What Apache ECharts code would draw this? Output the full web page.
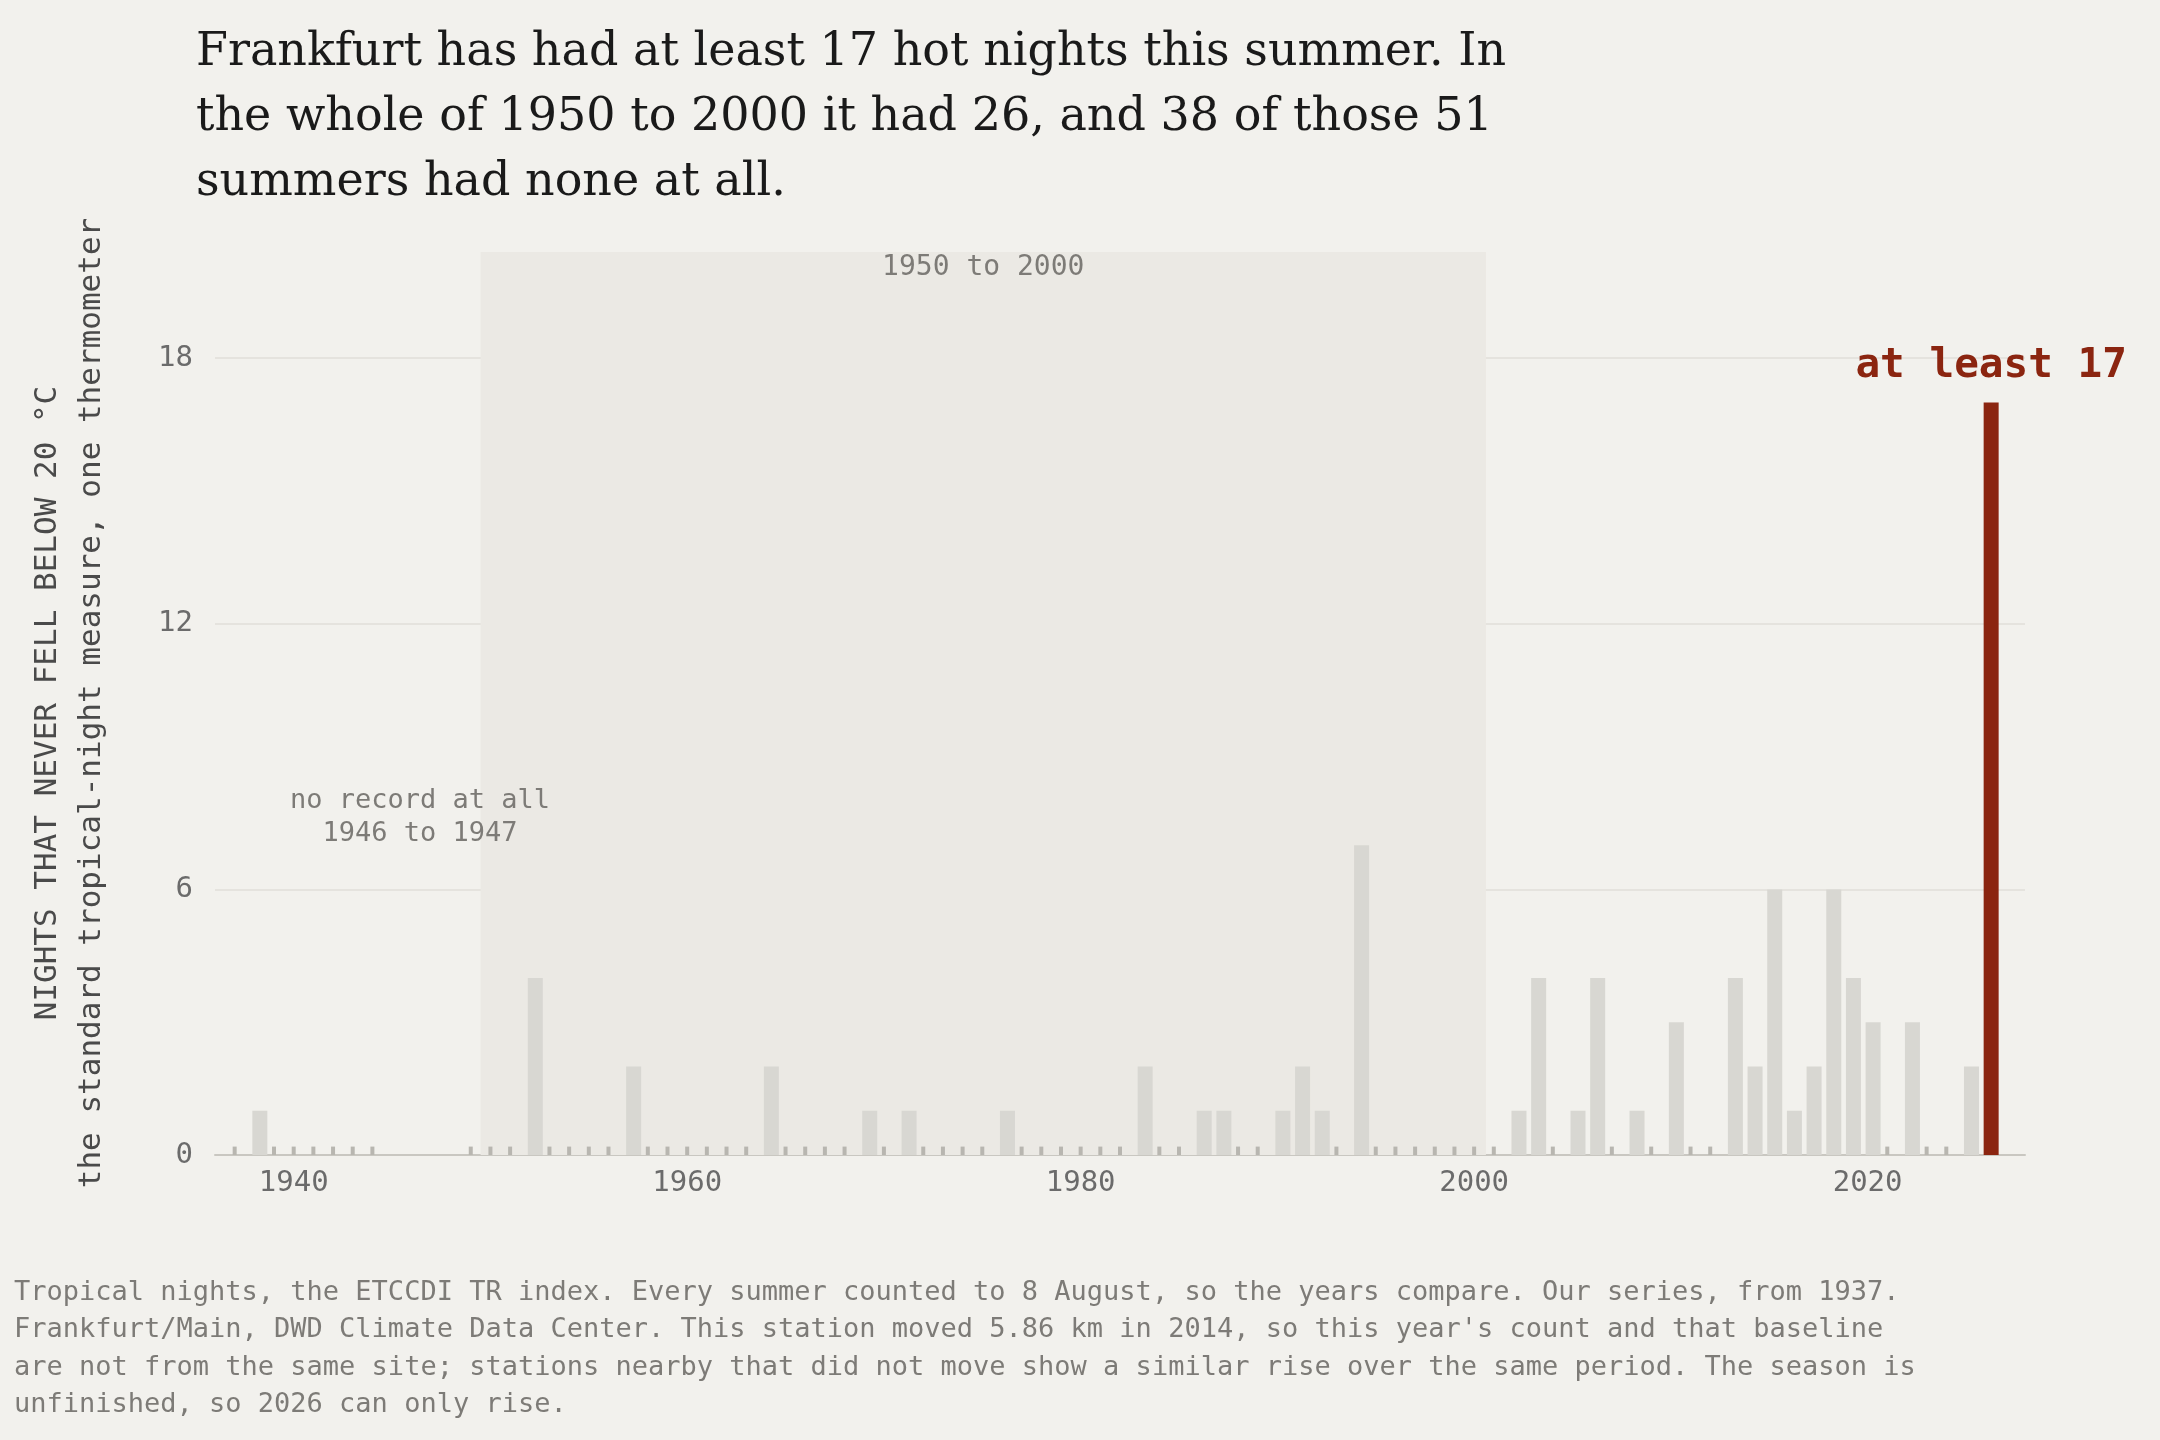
<!DOCTYPE html>
<html><head><meta charset="utf-8">
<script src="https://cdn.jsdelivr.net/npm/echarts@6/dist/echarts.min.js"></script>
<style>html,body{margin:0;background:#f2f1ed}#c{width:2160px;height:1440px}</style>
</head><body><div id="c"></div>
<script>
const years = [];
for (let y = 1937; y <= 2026; y++) years.push(y);
const missingYears = [1945, 1946, 1947, 1948];
const nonZero = {1938:1,1952:4,1957:2,1964:2,1969:1,1971:1,1976:1,1983:2,1986:1,1987:1,1990:1,1991:2,1992:1,1994:7,
 2002:1,2003:4,2005:1,2006:4,2008:1,2010:3,2013:4,2014:2,2015:6,2016:1,2017:2,2018:6,2019:4,2020:3,2022:3,2025:2,2026:17};
const values = years.map(y => missingYears.includes(y) ? null : (nonZero[y] || 0));
const yTicks = [0, 6, 12, 18];
const titleLines = ['Frankfurt has had at least 17 hot nights this summer. In','the whole of 1950 to 2000 it had 26, and 38 of those 51','summers had none at all.'];
const noteLines = ["Tropical nights, the ETCCDI TR index. Every summer counted to 8 August, so the years compare. Our series, from 1937.",
"Frankfurt/Main, DWD Climate Data Center. This station moved 5.86 km in 2014, so this year's count and that baseline",
"are not from the same site; stations nearby that did not move show a similar rise over the same period. The season is",
"unfinished, so 2026 can only rise."];
const mono = '"DejaVu Sans Mono", monospace';
const lastYear = 2026;
const bars = years.map((y,i) => values[i] ? {value:[y, values[i]], itemStyle:{color: y===lastYear ? '#8b2510' : '#d8d7d2'},
  label: y===lastYear ? {show:true, position:'top', distance:16, formatter:'at least '+values[i], color:'#8b2510', fontFamily:mono, fontWeight:'bold', fontSize:41} : {show:false}} : null).filter(Boolean);
const zeros = years.map((y,i) => values[i] === 0 ? [y, 0.19] : null).filter(Boolean);
const chart = echarts.init(document.getElementById('c'));
const graphic = [];
titleLines.forEach((t,i)=>graphic.push({type:'text', z:100, left:196, top:30+i*65, style:{text:t, font:'46px "DejaVu Serif", serif', fill:'#1a1a1a'}}));
noteLines.forEach((t,i)=>graphic.push({type:'text', z:100, left:14, top:1279+i*37.5, style:{text:t, font:'27px '+mono, fill:'#7d7b77'}}));
graphic.push({type:'text', z:100, x:48, y:703, rotation:Math.PI/2, style:{text:'NIGHTS THAT NEVER FELL BELOW 20 °C', font:'31px '+mono, fill:'#4a4a4a', align:'center', verticalAlign:'middle'}});
graphic.push({type:'text', z:100, x:92, y:703, rotation:Math.PI/2, style:{text:'the standard tropical-night measure, one thermometer', font:'31px '+mono, fill:'#4a4a4a', align:'center', verticalAlign:'middle'}});
graphic.push({type:'text', z:100, x:420, y:817, style:{text:'no record at all\n1946 to 1947', font:'27px '+mono, fill:'#7d7b77', align:'center', verticalAlign:'middle', lineHeight:33}});
chart.setOption({
  backgroundColor:'#f2f1ed', animation:false, graphic,
  grid:{left:215, right:135, top:252, bottom:285},
  xAxis:{type:'value', min:1936, max:2028, interval:4,
    axisLine:{lineStyle:{color:'#c9c7c1', width:2}}, axisTick:{show:false}, splitLine:{show:false},
    axisLabel:{color:'#6b6b6b', fontFamily:mono, fontSize:29, margin:14, formatter:v=> v%20===0 ? String(v) : ''}},
  yAxis:{type:'value', min:0, max:20.4, interval:6,
    axisLine:{show:false}, axisTick:{show:false},
    splitLine:{showMaxLine:false, lineStyle:{color:'#e0ded8', width:1.5}},
    axisLabel:{color:'#6b6b6b', fontFamily:mono, fontSize:29, margin:22, showMaxLabel:false, formatter:v=> yTicks.includes(v)?String(v):''}},
  series:[
    {type:'bar', data:bars, barWidth:15, z:3,
     markArea:{silent:true, itemStyle:{color:'#ebe9e4'}, label:{show:true, position:'insideTop', distance:2, color:'#7d7b77', fontFamily:mono, fontSize:28},
       data:[[{xAxis:1949.5, yAxis:20.4, name:'1950 to 2000'},{xAxis:2000.6, yAxis:0}]]}},
    {type:'bar', data:zeros, barWidth:4, barGap:'-100%', z:3, itemStyle:{color:'#b8b6b0'}}
  ]
});
</script></body></html>
